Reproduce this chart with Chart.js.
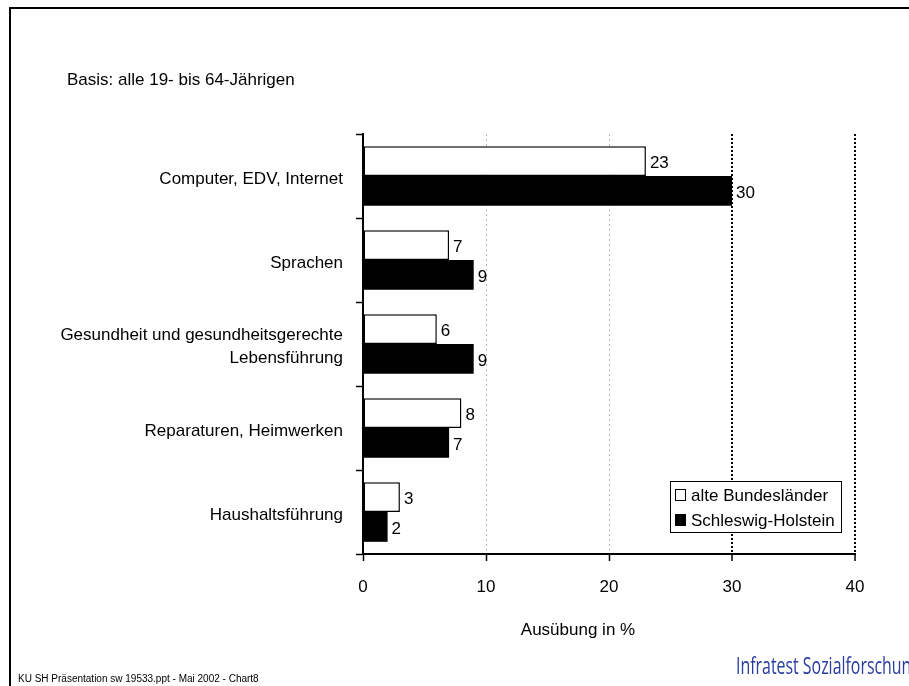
<!DOCTYPE html>
<html><head><meta charset="utf-8">
<script src="https://cdn.jsdelivr.net/npm/chart.js@4.4.0/dist/chart.umd.min.js"></script>
<style>html,body{margin:0;padding:0;background:#fff;} canvas{display:block;}</style>
</head><body>
<canvas id="c" width="909" height="686"></canvas>
<script>
const categories = [
  'Computer, EDV, Internet',
  'Sprachen',
  ['Gesundheit und gesundheitsgerechte', 'Lebensführung'],
  'Reparaturen, Heimwerken',
  'Haushaltsführung'
];
const seriesNames = ['alte Bundesländer', 'Schleswig-Holstein'];
const alteBundeslaender = [23, 7, 6, 8, 3];
const schleswigHolstein = [30, 9, 9, 7, 2];
const xMin = 0, xMax = 40, xStep = 10;
const basisText = 'Basis: alle 19- bis 64-Jährigen';
const axisTitle = 'Ausübung in %';
const footerText = 'KU SH Präsentation sw 19533.ppt - Mai 2002 - Chart8';
const logoText = 'Infratest Sozialforschung';

const FONT = "'Liberation Sans', Arial, sans-serif";

const valueLabels = {
  id: 'valueLabels',
  afterDatasetsDraw(chart) {
    const ctx = chart.ctx;
    ctx.save();
    ctx.font = '17px ' + FONT;
    ctx.fillStyle = '#000';
    ctx.textAlign = 'left';
    ctx.textBaseline = 'middle';
    chart.data.datasets.forEach((ds, di) => {
      chart.getDatasetMeta(di).data.forEach((el, i) => {
        ctx.fillText(String(ds.data[i]), el.x + 4, el.y + 2);
      });
    });
    ctx.restore();
  }
};

const decor = {
  id: 'decor',
  afterDraw(chart) {
    const ctx = chart.ctx;
    ctx.save();
    // frame
    ctx.strokeStyle = '#000';
    ctx.lineWidth = 2;
    ctx.beginPath();
    ctx.moveTo(10, 686); ctx.lineTo(10, 8); ctx.lineTo(909, 8);
    ctx.stroke();
    // texts
    ctx.fillStyle = '#000';
    ctx.textBaseline = 'middle';
    ctx.textAlign = 'left';
    ctx.font = '17px ' + FONT;
    ctx.fillText(basisText, 67, 80);
    ctx.textAlign = 'center';
    ctx.fillText(axisTitle, 578, 630);
    ctx.textAlign = 'left';
    ctx.font = '10px ' + FONT;
    ctx.fillText(footerText, 18, 679);
    // logo
    ctx.fillStyle = '#2b3c9e';
    ctx.font = '24px "Open Sans", ' + FONT;
    const w = ctx.measureText(logoText).width;
    const target = 184;
    ctx.translate(736, 667);
    ctx.scale(target / w, 1);
    ctx.fillText(logoText, 0, 0);
    ctx.restore();

    // legend
    const ds = chart.data.datasets;
    ctx.save();
    ctx.fillStyle = '#fff';
    ctx.fillRect(670.5, 481.5, 171, 51);
    ctx.strokeStyle = '#000';
    ctx.lineWidth = 1;
    ctx.strokeRect(670.5, 481.5, 171, 51);
    ctx.font = '17px ' + FONT;
    ctx.textBaseline = 'middle';
    ctx.textAlign = 'left';
    const rows = [495, 520];
    ds.forEach((d, i) => {
      const y = rows[i];
      ctx.fillStyle = d.backgroundColor;
      ctx.fillRect(675.5, y - 5.5, 10, 11);
      ctx.strokeRect(675.5, y - 5.5, 10, 11);
      ctx.fillStyle = '#000';
      ctx.fillText(d.label, 691, y + 1);
    });
    ctx.restore();
  }
};

new Chart(document.getElementById('c'), {
  type: 'bar',
  data: {
    labels: categories,
    datasets: [
      { label: seriesNames[0], data: alteBundeslaender, backgroundColor: '#ffffff', borderColor: '#000', borderWidth: 1.5, borderSkipped: false },
      { label: seriesNames[1], data: schleswigHolstein, backgroundColor: '#000000', borderColor: '#000', borderWidth: 0 }
    ]
  },
  options: {
    indexAxis: 'y',
    responsive: false,
    animation: false,
    events: [],
    layout: { padding: { top: 134, right: 54, left: 0, bottom: 0 } },
    categoryPercentage: 0.71,
    barPercentage: 1.0,
    plugins: { legend: { display: false }, tooltip: { enabled: false }, title: { display: false } },
    scales: {
      x: {
        type: 'linear', min: xMin, max: xMax,
        ticks: { stepSize: xStep, color: '#000', font: { family: FONT, size: 17 }, padding: 16 },
        grid: {
          color: c => (c.tick && c.tick.value === 0) ? 'rgba(0,0,0,0)' : (c.tick && c.tick.value >= 30 ? '#000' : '#b8b8b8'),
          lineWidth: c => (c.tick && c.tick.value >= 30) ? 2 : 1,
          tickColor: '#000', tickWidth: 1.5, tickLength: 7, tickBorderDash: [],
          drawTicks: true
        },
        border: {
          display: true, color: '#000', width: 2,
          dash: c => (c.tick && c.tick.value >= 30) ? [2, 2] : [2, 3]
        },
        afterFit: s => { s.height = 132; }
      },
      y: {
        type: 'category',
        ticks: { color: '#000', font: { family: FONT, size: 17, lineHeight: 1.35 }, padding: 13, labelOffset: 3 },
        grid: { offset: true, drawOnChartArea: false, drawTicks: true, tickLength: 7, tickColor: '#000', tickWidth: 1.5, color: '#000' },
        border: { display: true, color: '#000', width: 2 },
        afterFit: s => { s.width = 363; }
      }
    }
  },
  plugins: [valueLabels, decor]
});
</script>
</body></html>
